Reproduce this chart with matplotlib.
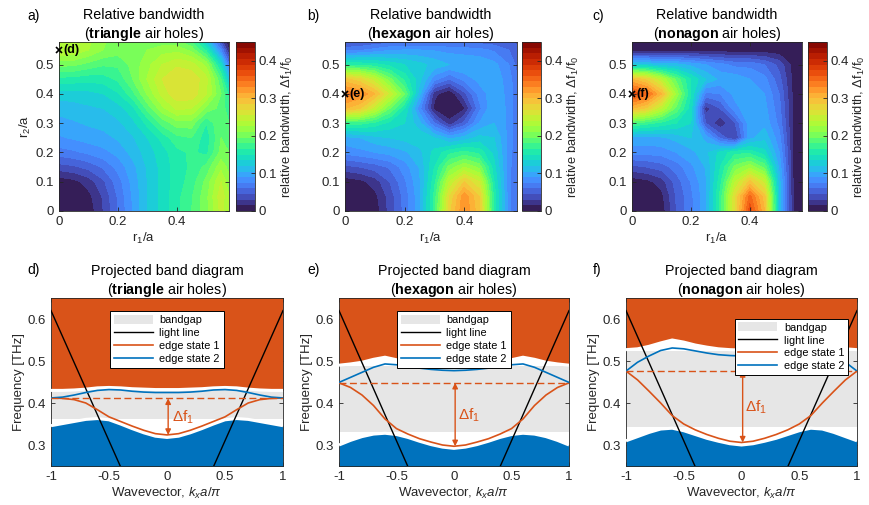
import numpy as np
import matplotlib
matplotlib.use('Agg')
import matplotlib.pyplot as plt
from matplotlib.patches import Patch
from matplotlib.lines import Line2D
from matplotlib.ticker import FuncFormatter

plt.rcParams['font.family'] = ['Liberation Sans', 'DejaVu Sans']
plt.rcParams['mathtext.fontset'] = 'custom'
plt.rcParams['mathtext.rm'] = 'Liberation Sans'
plt.rcParams['mathtext.it'] = 'Liberation Sans:italic'
plt.rcParams['mathtext.bf'] = 'Liberation Sans:bold'
plt.rcParams['axes.unicode_minus'] = False

# ---------------- data: relative bandwidth maps ----------------
r_grid = [0.0, 0.05, 0.10, 0.15, 0.20, 0.25, 0.30, 0.35, 0.40, 0.45, 0.50, 0.55, 0.577]

tri_map = [
    [0.000, 0.000, 0.005, 0.030, 0.060, 0.090, 0.120, 0.140, 0.160, 0.180, 0.205, 0.245, 0.225],
    [0.000, 0.000, 0.010, 0.032, 0.062, 0.092, 0.120, 0.140, 0.160, 0.178, 0.205, 0.250, 0.225],
    [0.005, 0.010, 0.022, 0.042, 0.068, 0.095, 0.120, 0.140, 0.157, 0.172, 0.200, 0.240, 0.215],
    [0.038, 0.042, 0.050, 0.062, 0.080, 0.100, 0.122, 0.140, 0.157, 0.168, 0.185, 0.220, 0.205],
    [0.068, 0.072, 0.078, 0.085, 0.095, 0.110, 0.127, 0.143, 0.160, 0.168, 0.160, 0.200, 0.195],
    [0.088, 0.092, 0.097, 0.100, 0.107, 0.118, 0.135, 0.155, 0.175, 0.180, 0.155, 0.195, 0.190],
    [0.100, 0.103, 0.107, 0.110, 0.117, 0.130, 0.155, 0.185, 0.203, 0.203, 0.165, 0.195, 0.180],
    [0.110, 0.113, 0.117, 0.120, 0.128, 0.145, 0.185, 0.220, 0.243, 0.240, 0.205, 0.190, 0.170],
    [0.127, 0.128, 0.130, 0.135, 0.148, 0.175, 0.212, 0.245, 0.266, 0.265, 0.240, 0.195, 0.160],
    [0.160, 0.158, 0.155, 0.157, 0.168, 0.195, 0.226, 0.255, 0.270, 0.266, 0.245, 0.180, 0.120],
    [0.200, 0.198, 0.190, 0.182, 0.183, 0.200, 0.220, 0.240, 0.252, 0.247, 0.220, 0.140, 0.065],
    [0.240, 0.238, 0.225, 0.210, 0.202, 0.203, 0.210, 0.218, 0.220, 0.205, 0.160, 0.075, 0.015],
    [0.232, 0.235, 0.228, 0.212, 0.202, 0.200, 0.202, 0.203, 0.200, 0.182, 0.125, 0.040, 0.000],
]

hex_map = [
    [0.000, 0.000, 0.005, 0.035, 0.065, 0.100, 0.170, 0.280, 0.330, 0.290, 0.160, 0.080, 0.060],
    [0.000, 0.000, 0.010, 0.036, 0.066, 0.100, 0.170, 0.270, 0.325, 0.285, 0.160, 0.080, 0.060],
    [0.005, 0.010, 0.022, 0.045, 0.072, 0.102, 0.160, 0.240, 0.285, 0.255, 0.150, 0.080, 0.060],
    [0.040, 0.045, 0.052, 0.062, 0.082, 0.106, 0.150, 0.200, 0.225, 0.205, 0.140, 0.080, 0.060],
    [0.080, 0.085, 0.090, 0.095, 0.102, 0.115, 0.140, 0.160, 0.170, 0.160, 0.130, 0.082, 0.062],
    [0.100, 0.105, 0.115, 0.120, 0.125, 0.130, 0.120, 0.100, 0.110, 0.125, 0.120, 0.085, 0.065],
    [0.170, 0.170, 0.160, 0.145, 0.135, 0.110, 0.060, 0.020, 0.050, 0.090, 0.105, 0.085, 0.065],
    [0.300, 0.285, 0.245, 0.195, 0.150, 0.080, 0.010, 0.000, 0.012, 0.070, 0.105, 0.085, 0.065],
    [0.340, 0.330, 0.300, 0.250, 0.195, 0.110, 0.020, 0.000, 0.040, 0.080, 0.100, 0.085, 0.065],
    [0.290, 0.275, 0.245, 0.200, 0.160, 0.125, 0.080, 0.060, 0.080, 0.095, 0.100, 0.082, 0.062],
    [0.160, 0.160, 0.155, 0.145, 0.135, 0.125, 0.115, 0.105, 0.105, 0.102, 0.095, 0.075, 0.055],
    [0.068, 0.072, 0.080, 0.088, 0.090, 0.090, 0.088, 0.085, 0.082, 0.080, 0.072, 0.060, 0.050],
    [0.042, 0.045, 0.050, 0.055, 0.058, 0.058, 0.058, 0.056, 0.055, 0.055, 0.052, 0.048, 0.042],
]

non_map = [
    [0.000, 0.000, 0.005, 0.045, 0.070, 0.100, 0.170, 0.270, 0.370, 0.300, 0.115, 0.008, 0.000],
    [0.000, 0.000, 0.010, 0.046, 0.071, 0.100, 0.170, 0.270, 0.350, 0.290, 0.115, 0.008, 0.000],
    [0.005, 0.010, 0.022, 0.052, 0.076, 0.102, 0.160, 0.240, 0.290, 0.250, 0.110, 0.008, 0.000],
    [0.040, 0.045, 0.052, 0.066, 0.086, 0.106, 0.150, 0.200, 0.220, 0.190, 0.100, 0.008, 0.000],
    [0.080, 0.080, 0.082, 0.090, 0.100, 0.115, 0.140, 0.160, 0.160, 0.140, 0.090, 0.008, 0.000],
    [0.100, 0.100, 0.102, 0.110, 0.120, 0.100, 0.055, 0.028, 0.100, 0.115, 0.080, 0.008, 0.000],
    [0.180, 0.170, 0.160, 0.150, 0.135, 0.045, 0.018, 0.045, 0.100, 0.100, 0.070, 0.008, 0.000],
    [0.300, 0.280, 0.240, 0.190, 0.140, 0.022, 0.045, 0.085, 0.100, 0.095, 0.065, 0.008, 0.000],
    [0.370, 0.350, 0.300, 0.220, 0.150, 0.070, 0.075, 0.095, 0.100, 0.090, 0.060, 0.008, 0.000],
    [0.300, 0.280, 0.240, 0.190, 0.150, 0.120, 0.100, 0.100, 0.090, 0.080, 0.050, 0.008, 0.000],
    [0.120, 0.120, 0.110, 0.110, 0.100, 0.090, 0.080, 0.070, 0.070, 0.060, 0.040, 0.006, 0.000],
    [0.005, 0.005, 0.005, 0.005, 0.005, 0.005, 0.005, 0.005, 0.005, 0.005, 0.004, 0.002, 0.000],
    [0.000, 0.000, 0.000, 0.000, 0.000, 0.000, 0.000, 0.000, 0.000, 0.000, 0.000, 0.000, 0.000],
]

map_shapes = ['triangle', 'hexagon', 'nonagon']
mark_r1 = [0.0, 0.0, 0.0]
mark_r2 = [0.55, 0.40, 0.40]
mark_labels = ['(d)', '(e)', '(f)']
cbar_ticks = [0, 0.1, 0.2, 0.3, 0.4]

# ---------------- data: projected band diagrams ----------------
kx = [-1.0, -0.9, -0.8, -0.7, -0.6, -0.5, -0.4, -0.3, -0.2, -0.1, 0.0,
      0.1, 0.2, 0.3, 0.4, 0.5, 0.6, 0.7, 0.8, 0.9, 1.0]

tri_upper = [0.430, 0.430, 0.431, 0.433, 0.436, 0.437, 0.436, 0.434, 0.433, 0.432, 0.432,
             0.432, 0.433, 0.434, 0.436, 0.437, 0.436, 0.433, 0.431, 0.430, 0.430]
tri_lower = [0.346, 0.351, 0.356, 0.361, 0.363, 0.360, 0.350, 0.339, 0.329, 0.321, 0.318,
             0.321, 0.329, 0.339, 0.350, 0.360, 0.363, 0.361, 0.356, 0.351, 0.346]
tri_edge1 = [0.412, 0.411, 0.408, 0.400, 0.384, 0.367, 0.356, 0.345, 0.335, 0.327, 0.324,
             0.327, 0.335, 0.345, 0.356, 0.367, 0.384, 0.400, 0.408, 0.411, 0.412]
tri_edge2 = [0.412, 0.414, 0.419, 0.425, 0.430, 0.432, 0.431, 0.428, 0.426, 0.425, 0.425,
             0.425, 0.426, 0.428, 0.431, 0.432, 0.430, 0.425, 0.419, 0.414, 0.412]
tri_gap = [0.363, 0.430]
tri_df = [0.411, 0.324]

hex_upper = [0.490, 0.493, 0.497, 0.504, 0.509, 0.503, 0.498, 0.494, 0.491, 0.489, 0.489,
             0.489, 0.491, 0.494, 0.498, 0.503, 0.509, 0.504, 0.497, 0.493, 0.490]
hex_lower = [0.300, 0.311, 0.320, 0.326, 0.328, 0.325, 0.318, 0.309, 0.301, 0.295, 0.292,
             0.295, 0.301, 0.309, 0.318, 0.325, 0.328, 0.326, 0.320, 0.311, 0.300]
hex_edge1 = [0.448, 0.437, 0.419, 0.394, 0.362, 0.339, 0.326, 0.315, 0.307, 0.300, 0.297,
             0.300, 0.307, 0.315, 0.326, 0.339, 0.362, 0.394, 0.419, 0.437, 0.448]
hex_edge2 = [0.449, 0.461, 0.473, 0.485, 0.493, 0.491, 0.487, 0.483, 0.480, 0.478, 0.477,
             0.478, 0.480, 0.483, 0.487, 0.491, 0.493, 0.485, 0.473, 0.461, 0.449]
hex_gap = [0.330, 0.487]
hex_df = [0.448, 0.297]

non_upper = [0.527, 0.529, 0.535, 0.543, 0.550, 0.545, 0.538, 0.533, 0.529, 0.527, 0.526,
             0.527, 0.529, 0.533, 0.538, 0.545, 0.550, 0.543, 0.535, 0.529, 0.527]
non_lower = [0.310, 0.320, 0.330, 0.338, 0.340, 0.334, 0.325, 0.316, 0.309, 0.303, 0.300,
             0.303, 0.309, 0.316, 0.325, 0.334, 0.340, 0.338, 0.330, 0.320, 0.310]
non_edge1 = [0.476, 0.455, 0.428, 0.400, 0.370, 0.350, 0.336, 0.325, 0.316, 0.309, 0.306,
             0.309, 0.316, 0.325, 0.336, 0.350, 0.370, 0.400, 0.428, 0.455, 0.476]
non_edge2 = [0.476, 0.497, 0.512, 0.525, 0.531, 0.529, 0.524, 0.519, 0.515, 0.513, 0.512,
             0.513, 0.515, 0.519, 0.524, 0.529, 0.531, 0.525, 0.512, 0.497, 0.476]
non_gap = [0.344, 0.524]
non_df = [0.476, 0.306]

light_k = [-1.0, 0.0, 1.0]
light_f = [0.62, 0.0, 0.62]

ORANGE = '#D95319'
BLUE = '#0072BD'
GRAY = '#E6E6E6'
AXC = '#262626'

fig = plt.figure(figsize=(8.7, 5.05), dpi=100)
W, H = 870.0, 505.0


def fig_rect(x0, y0, x1, y1):
    return [x0 / W, 1 - y1 / H, (x1 - x0) / W, (y1 - y0) / H]


fmt = FuncFormatter(lambda v, p: f'{v:g}')


def style_axes(ax):
    ax.tick_params(direction='in', top=True, right=True, length=3, width=0.6,
                   labelsize=9.5, colors=AXC, labelcolor=AXC)
    for s in ax.spines.values():
        s.set_linewidth(0.6)
        s.set_color(AXC)


# ---------------- top row ----------------
top_axes = [(59, 229), (345, 517), (632, 802)]
cb_x = [236, 522, 808]
maps = [tri_map, hex_map, non_map]
levels = np.linspace(0, 0.45, 31)
for i in range(3):
    x0, x1 = top_axes[i]
    ax = fig.add_axes(fig_rect(x0, 42, x1, 211))
    cs = ax.contourf(r_grid, r_grid, np.array(maps[i]), levels=levels, cmap='turbo',
                     vmin=0, vmax=0.45)
    ax.set_xlim(0, r_grid[-1])
    ax.set_ylim(0, r_grid[-1])
    ax.set_xticks([0, 0.2, 0.4])
    ax.set_yticks([0, 0.1, 0.2, 0.3, 0.4, 0.5])
    ax.xaxis.set_major_formatter(fmt)
    ax.yaxis.set_major_formatter(fmt)
    style_axes(ax)
    ax.set_xlabel('r$_1$/a', fontsize=9.5, color=AXC, labelpad=2)
    if i == 0:
        ax.set_ylabel('r$_2$/a', fontsize=9.5, color=AXC, labelpad=2)
    ax.set_title('Relative bandwidth\n($\\bf{' + map_shapes[i] + '}$ air holes)',
                 fontsize=10.3, pad=3, color='k')
    ax.plot(mark_r1[i], mark_r2[i], 'x', color='k', ms=4.5, mew=1.2, clip_on=False, zorder=6)
    ax.text(mark_r1[i] + 0.015, mark_r2[i], mark_labels[i], fontsize=9, fontweight='bold',
            va='center', ha='left', zorder=6)
    cax = fig.add_axes(fig_rect(cb_x[i], 42, cb_x[i] + 19, 211))
    cb = fig.colorbar(cs, cax=cax, ticks=cbar_ticks)
    cb.ax.yaxis.set_major_formatter(fmt)
    cb.ax.tick_params(direction='in', length=3, width=0.6, labelsize=9.5, colors=AXC, pad=2.5)
    cb.outline.set_linewidth(0.6)
    cb.outline.set_edgecolor(AXC)
    cb.set_label('relative bandwidth, $\\Delta$f$_1$/f$_0$', fontsize=9.3, color=AXC,
                 labelpad=2)

# ---------------- bottom row ----------------
bot_axes = [(51, 283), (339, 569), (626, 857)]
bands = [
    (tri_upper, tri_lower, tri_edge1, tri_edge2, tri_gap, tri_df),
    (hex_upper, hex_lower, hex_edge1, hex_edge2, hex_gap, hex_df),
    (non_upper, non_lower, non_edge1, non_edge2, non_gap, non_df),
]
df_text_pos = [(0.04, 0.366), (0.035, 0.37), (0.03, 0.39)]
legend_anchor = [('upper center', (0.5, 0.955)), ('upper center', (0.5, 0.955)),
                 ('upper right', (0.985, 0.91))]

for i in range(3):
    upper, lower, e1, e2, gap, df = bands[i]
    x0, x1 = bot_axes[i]
    ax = fig.add_axes(fig_rect(x0, 298, x1, 466))
    ax.axhspan(gap[0], gap[1], color=GRAY, lw=0, zorder=1)
    ax.fill_between(kx, upper, 0.7, color=ORANGE, lw=0, zorder=2)
    ax.fill_between(kx, 0.2, lower, color=BLUE, lw=0, zorder=2)
    ax.plot(kx, upper, color='white', lw=2.2, zorder=3, solid_capstyle='butt')
    ax.plot(kx, lower, color='white', lw=2.2, zorder=3, solid_capstyle='butt')
    ax.plot(light_k, light_f, color='k', lw=1.0, zorder=5)
    ax.plot(kx, e1, color=ORANGE, lw=1.2, zorder=6)
    ax.plot(kx, e2, color=BLUE, lw=1.2, zorder=6)
    ax.plot([kx[0], kx[-1]], [df[0], df[0]], color=ORANGE, lw=1.0, dashes=(5, 2.5), zorder=6)
    ax.annotate('', xy=(0.01, df[1]), xytext=(0.01, df[0]),
                arrowprops=dict(arrowstyle='<|-|>', color=ORANGE, lw=1.0,
                                shrinkA=0, shrinkB=0, mutation_scale=8), zorder=7)
    ax.text(df_text_pos[i][0], df_text_pos[i][1], '$\\Delta$f$_1$', color=ORANGE,
            fontsize=11, va='center', ha='left', zorder=7)
    ax.set_xlim(-1, 1)
    ax.set_ylim(0.25, 0.65)
    ax.set_xticks([-1, -0.5, 0, 0.5, 1])
    ax.set_yticks([0.3, 0.4, 0.5, 0.6])
    ax.xaxis.set_major_formatter(fmt)
    ax.yaxis.set_major_formatter(fmt)
    style_axes(ax)
    ax.set_xlabel('Wavevector, $k_x a/\\pi$', fontsize=9.5, color=AXC, labelpad=2)
    ax.set_ylabel('Frequency [THz]', fontsize=9.5, color=AXC, labelpad=2)
    ax.set_title('Projected band diagram\n($\\bf{' + map_shapes[i] + '}$ air holes)',
                 fontsize=10.3, pad=3, color='k')
    handles = [Patch(facecolor=GRAY, edgecolor='none', label='bandgap'),
               Line2D([], [], color='k', lw=1.0, label='light line'),
               Line2D([], [], color=ORANGE, lw=1.2, label='edge state 1'),
               Line2D([], [], color=BLUE, lw=1.2, label='edge state 2')]
    loc, anchor = legend_anchor[i]
    leg = ax.legend(handles=handles, loc=loc, bbox_to_anchor=anchor, fontsize=7.8,
                    handlelength=3.6, handleheight=0.9, handletextpad=0.6,
                    labelspacing=0.25, borderpad=0.35, fancybox=False, framealpha=1,
                    edgecolor='k')
    leg.get_frame().set_linewidth(0.7)
    leg.set_zorder(10)

# panel labels
for lab, x, y in [('a)', 27, 20), ('b)', 307, 20), ('c)', 592, 20),
                  ('d)', 27, 274), ('e)', 307, 274), ('f)', 593, 274)]:
    fig.text(x / W, 1 - y / H, lab, fontsize=10, va='baseline', ha='left')

fig.savefig('out.png', dpi=100)
